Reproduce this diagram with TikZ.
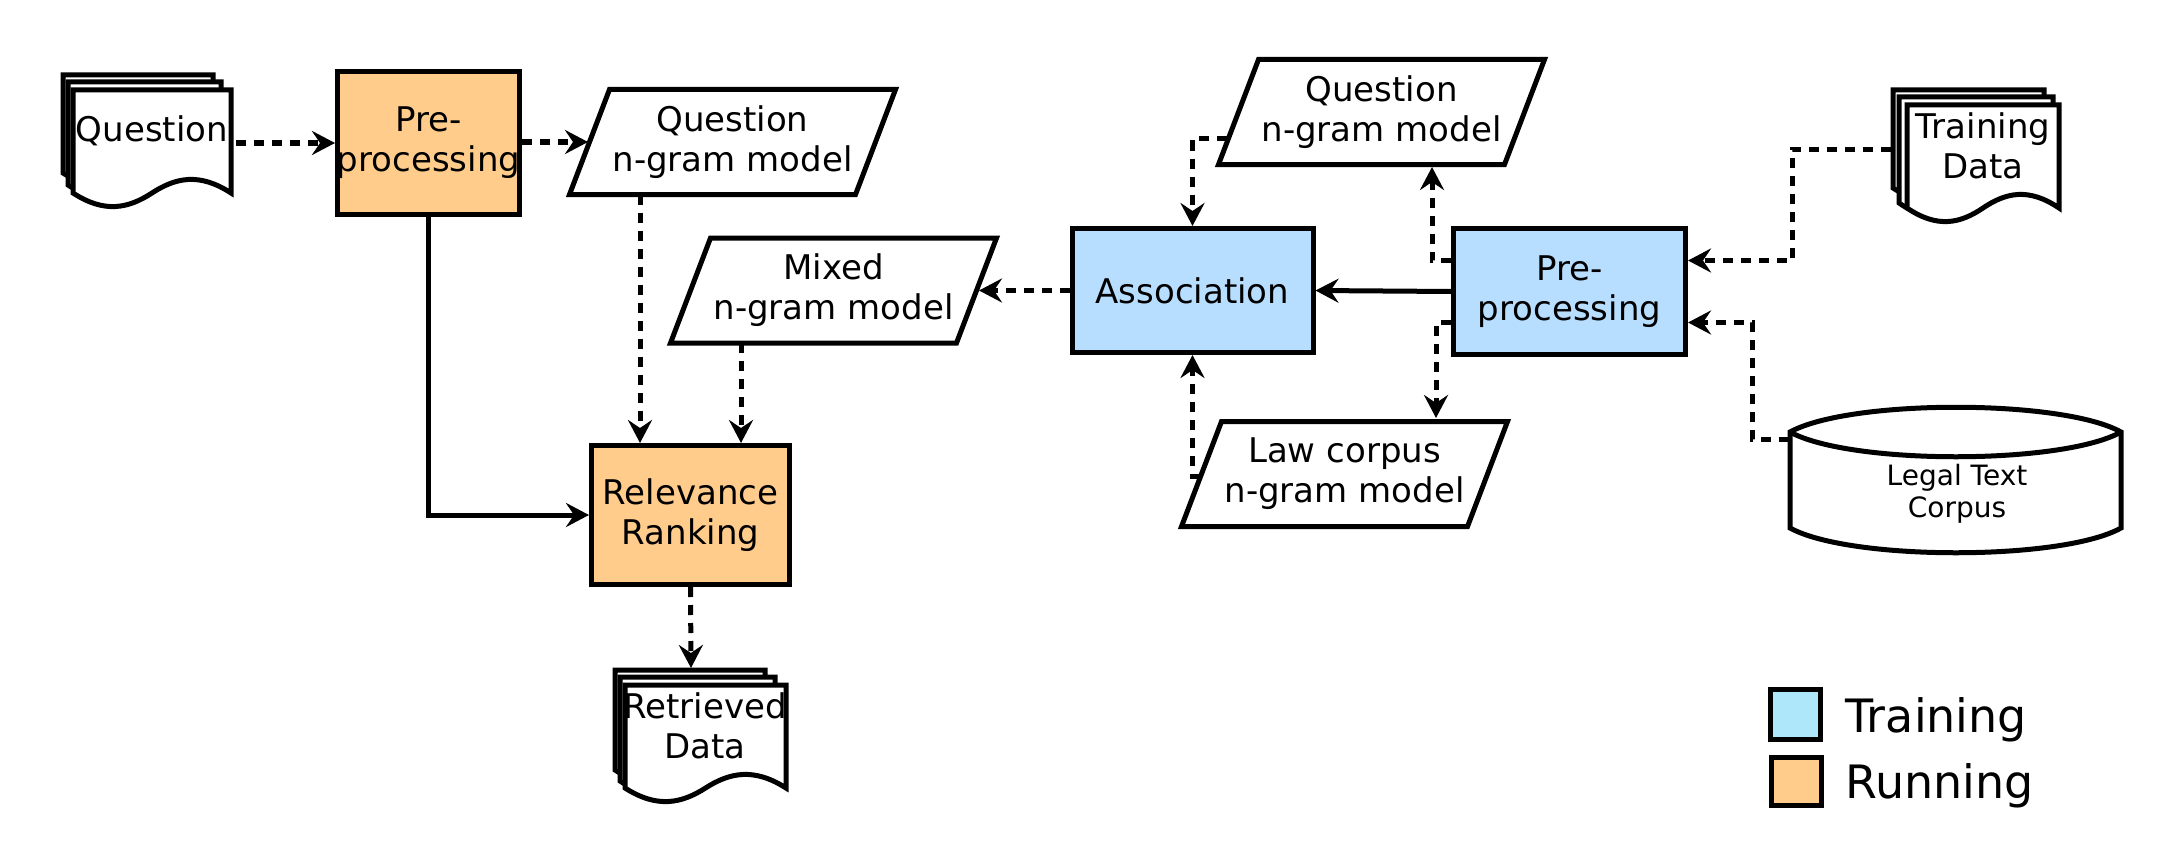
\documentclass[tikz,border=0pt]{standalone}
\usepackage{fontspec}
\setmainfont{DejaVu Sans}
\usetikzlibrary{arrows.meta,calc}
\definecolor{runorange}{RGB}{255,204,140}
\definecolor{trainblue}{RGB}{184,222,255}
\definecolor{legblue}{RGB}{174,230,250}

% document page: x y w h
\newcommand\docpage[4]{%
  \filldraw[fill=white, line width=5pt] (#1,#2) -- ({#1+#3},#2) -- ({#1+#3},{#2+#4})
    .. controls ({#1+0.8*#3},{#2+0.8*#4}) and ({#1+0.65*#3},{#2+0.85*#4}) .. ({#1+0.5*#3},{#2+#4})
    .. controls ({#1+0.35*#3},{#2+1.15*#4}) and ({#1+0.2*#3},{#2+1.2*#4}) .. (#1,{#2+#4}) -- cycle;}
% parallelogram: cx cy
\newcommand\parashape[2]{%
  \filldraw[fill=white, line width=5pt] ({#1-123},{#2-52.5}) -- ({#1+163},{#2-52.5})
    -- ({#1+123},{#2+52.5}) -- ({#1-163},{#2+52.5}) -- cycle;}

\begin{document}
\begin{tikzpicture}[x=1pt,y=-1pt, line width=5pt,
  lbl/.style={font=\fontsize{34}{40}\selectfont, align=center, inner sep=0pt},
  box/.style={draw, line width=5pt, inner sep=0pt},
  con/.style={line width=5pt, -{Stealth[length=23pt,width=24pt,inset=8pt]}},
  dsh/.style={con, dash pattern=on 10pt off 8pt}]
\useasboundingbox (0,0) rectangle (2162,848);

% ---------- Question document (left)
\docpage{63}{75}{150}{98}
\docpage{68}{82}{153}{103}
\docpage{73}{90}{158}{103}
\node[minimum width=158pt, minimum height=103pt, anchor=north west, inner sep=0pt] (qdoc) at (73,90) {};
\node[lbl] (qdoct) at (152,131) {Question};

% ---------- Pre-processing (running)
\node[box, fill=runorange, minimum width=182pt, minimum height=143pt] (pre1) at (428.5,143) {};
\node[lbl] (pre1t) at (pre1) {Pre-\\processing};

% ---------- Question n-gram model (left)
\parashape{732.5}{142}
\node[lbl] (qn1) at (732.5,142) {Question\\n-gram model};
\coordinate (qn1w) at (588,142);
\coordinate (qn1s) at (640,195);

% ---------- Mixed n-gram model
\parashape{833.5}{290.5}
\node[lbl] (mix) at (833.5,290.5) {Mixed\\n-gram model};
\coordinate (mixe) at (979,290.5);
\coordinate (mixs) at (741,343);

% ---------- Relevance Ranking
\node[box, fill=runorange, minimum width=198pt, minimum height=139pt] (rel) at (690.5,515) {};
\node[lbl] (relt) at (rel) {Relevance\\Ranking};

% ---------- Retrieved Data document
\docpage{615}{670}{150}{100}
\docpage{620}{677}{155}{104}
\docpage{625}{685}{161}{103}
\node[minimum width=161pt, minimum height=103pt, anchor=north west, inner sep=0pt] (rdoc) at (625,685) {};
\coordinate (rdocn) at (691,668);
\node[lbl] (rdoct) at (705,726) {Retrieved\\Data};

% ---------- Association
\node[box, fill=trainblue, minimum width=241pt, minimum height=124pt] (assoc) at (1192.5,290.5) {};
\node[lbl] (assoct) at (assoc) {Association};

% ---------- Pre-processing (training)
\node[box, fill=trainblue, minimum width=232pt, minimum height=126pt] (pre2) at (1569.5,291.5) {};
\node[lbl] (pre2t) at (pre2) {Pre-\\processing};

% ---------- Question n-gram model (right)
\parashape{1381.5}{112}
\node[lbl] (qn2) at (1381.5,112) {Question\\n-gram model};
\coordinate (qn2w) at (1227,139);
\coordinate (qn2s) at (1432,167);

% ---------- Law corpus n-gram model
\parashape{1344.5}{474}
\node[lbl] (law) at (1344.5,474) {Law corpus\\n-gram model};
\coordinate (lawn) at (1436,418);
\coordinate (laww) at (1200,476);

% ---------- Training Data document
\docpage{1893}{90}{151}{98}
\docpage{1899}{97}{154}{106}
\docpage{1907}{105}{152}{103}
\node[minimum width=152pt, minimum height=103pt, anchor=north west, inner sep=0pt] (tdoc) at (1907,105) {};
\coordinate (tdocw) at (1891,149);
\coordinate (tbend) at (1792,149);
\node[lbl] (tdoct) at (1983,146) {Training\\Data};

% ---------- Legal Text Corpus cylinder
\filldraw[fill=white, line width=5pt] (1790,432) .. controls (1850,399) and (2062,399) .. (2121,432)
  -- (2121,528) .. controls (2062,561) and (1850,561) .. (1790,528) -- cycle;
\draw[line width=5pt] (1790,432) .. controls (1850,465) and (2062,465) .. (2121,432);
\node[font=\fontsize{28}{32}\selectfont, align=center, inner sep=0pt] (cyl) at (1957,494) {Legal Text\\Corpus};
\coordinate (cylw) at (1789,439);
\coordinate (cbend) at (1752,439);

% ---------- Legend
\node[box, fill=legblue, minimum width=50pt, minimum height=50pt] (legT) at (1795,714.5) {};
\node[anchor=base west, font=\fontsize{46}{50}\selectfont, inner sep=0pt] (legTt) at (1843,732) {Training};
\node[box, fill=runorange, minimum width=50pt, minimum height=48pt] (legR) at (1796,781.5) {};
\node[anchor=base west, font=\fontsize{46}{50}\selectfont, inner sep=0pt] (legRt) at (1843,798) {Running};

% ---------- Connectors
\draw[dsh] (qdoc.east |- pre1) -- (pre1);
\draw[dsh] (pre1.east |- qn1w) -- (qn1w);
\draw[con] (pre1.south) |- (rel.west);
\draw[dsh] (qn1s) -- (qn1s |- rel.north);
\draw[dsh] (mixs) -- (mixs |- rel.north);
\draw[dsh] (rel.south) -- (rdocn);
\draw[dsh] (assoc.west) -- (mixe);
\draw[con] (pre2.west) -- (assoc.east);
\draw[dsh] (qn2w) -| (assoc.north);
\draw[dsh] ([yshift=31pt]pre2.west) -| (qn2s);
\draw[dsh] ([yshift=-31pt]pre2.west) -| (lawn);
\draw[dsh] (laww) -| (assoc.south);
\draw[dsh] (tdocw) -- (tbend) |- ([yshift=31pt]pre2.east);
\draw[dsh] (cylw) -- (cbend) |- ([yshift=-31pt]pre2.east);
\end{tikzpicture}
\end{document}
